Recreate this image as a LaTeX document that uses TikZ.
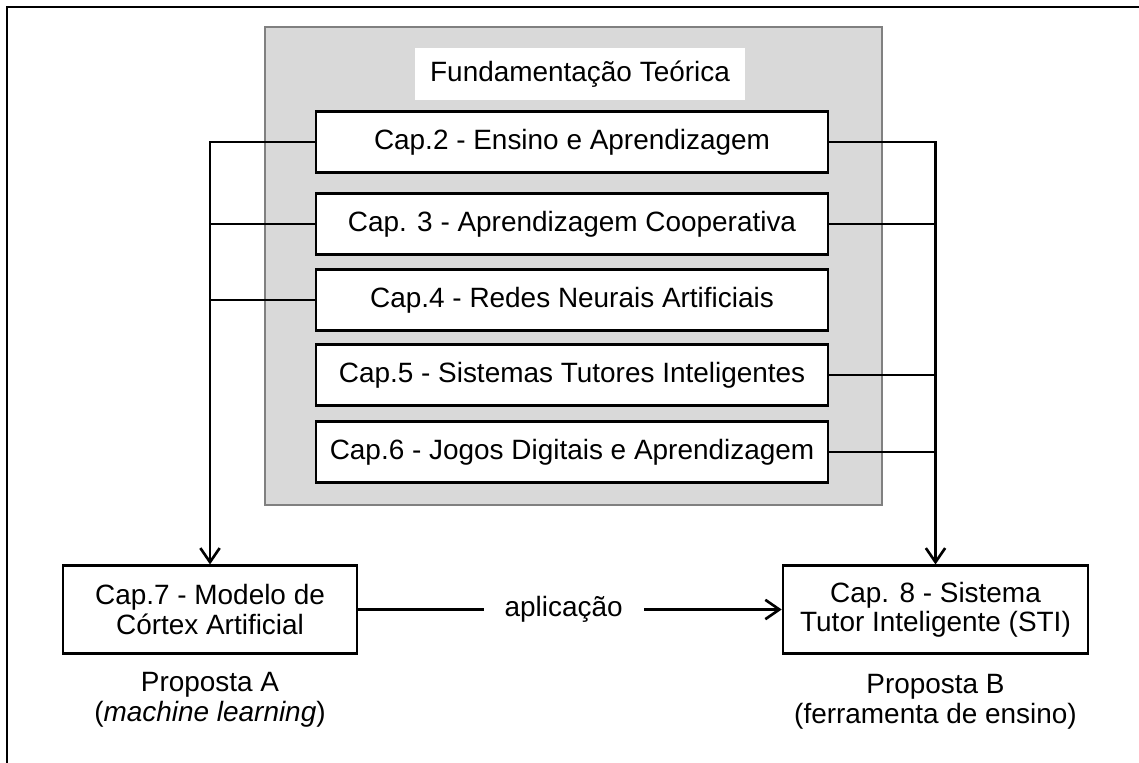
\documentclass[tikz,border=0pt]{standalone}
\usepackage{fontspec}
\setmainfont{Liberation Sans}
\usepackage{tikz}
\usetikzlibrary{positioning,calc,arrows.meta}
\definecolor{panelGray}{RGB}{217, 217, 217}
\definecolor{panelEdge}{RGB}{128, 128, 128}
\tikzset{
  chapBox/.style={draw=black, line width=1.5pt, fill=white, minimum width=10.24cm, minimum height=1.22cm, inner sep=0pt},
  propBox/.style={draw=black, line width=1.5pt, fill=white, minimum height=1.75cm, inner sep=0pt, align=center},
  busLine/.style={black, line width=1.5pt},
  busArrow/.style={busLine, -{Straight Barb[length=8pt,width=11pt,line width=1.5pt]}},
  capText/.style={font=\fontsize{15.9}{16.6}\selectfont}
}
\begin{document}
\begin{tikzpicture}[x=0.02cm, y=-0.02cm, capText]
                \useasboundingbox (0,0) rectangle (1139,763);
                % outer frame, cut by the page
                \draw[line width=1.5pt] (7,800) -- (7,7) -- (1200,7);
                % theory panel
                \draw[panelEdge, fill=panelGray, line width=1.1pt] (265,27) rectangle (882,505);
                \node[fill=white, minimum width=6.6cm, minimum height=1.04cm] (titulo) at (580,74) {Fundamenta\c{c}\~ao Te\'orica};
                \node[chapBox] (cap2) at (572,142) {Cap.2 - Ensino e Aprendizagem};
                \node[chapBox] (cap3) at (572,224) {Cap. 3 - Aprendizagem Cooperativa};
                \node[chapBox] (cap4) at (572,300) {Cap.4 - Redes Neurais Artificiais};
                \node[chapBox] (cap5) at (572,375) {Cap.5 - Sistemas Tutores Inteligentes};
                \node[chapBox] (cap6) at (572,452) {Cap.6 - Jogos Digitais e Aprendizagem};
                % the two proposals
                \node[propBox, minimum width=5.88cm] (cap7) at (210,609.5) {Cap.7 - Modelo de\\C\'ortex Artificial};
                \node[propBox, minimum width=6.1cm] (cap8) at (935.5,609.5) {Cap. 8 - Sistema\\Tutor Inteligente (STI)};
                \node[align=center, font=\fontsize{15.9}{17}\selectfont] (propA) at (210,700) {Proposta A\\(\textit{machine learning})};
                \node[align=center, font=\fontsize{15.9}{17}\selectfont] (propB) at (935.5,702) {Proposta B\\(ferramenta de ensino)};
                % connectors
                \draw[busArrow] (cap2.west) -| (cap7.north);
                \draw[busLine] (cap3.west) -- (cap3.west -| cap7.north);
                \draw[busLine] (cap4.west) -- (cap4.west -| cap7.north);
                \draw[busArrow] (cap2.east) -| (cap8.north);
                \draw[busLine] (cap3.east) -- (cap3.east -| cap8.north);
                \draw[busLine] (cap5.east) -- (cap5.east -| cap8.north);
                \draw[busLine] (cap6.east) -- (cap6.east -| cap8.north);
                \draw[busArrow] (cap7.east) -- node[pos=0.485, fill=white, inner xsep=12pt] (aplic) {aplica\c{c}\~ao} (cap8.west);
            \end{tikzpicture}
\end{document}
